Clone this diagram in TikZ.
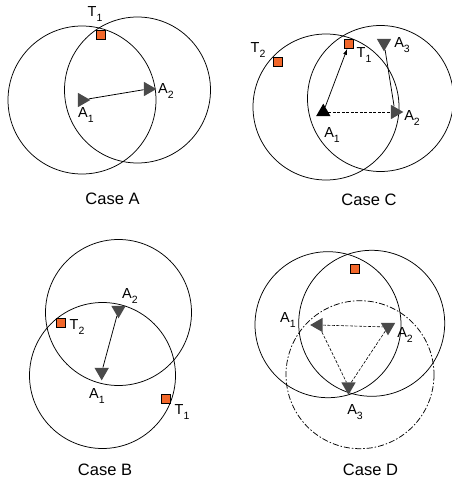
\documentclass[tikz,border=0pt]{standalone}
\usepackage{fontspec}
\setmainfont{Liberation Sans}
\usepackage{tikz}
\usetikzlibrary{arrows.meta,shapes.geometric}
\definecolor{tgtorange}{HTML}{F2672A}
\definecolor{agentgray}{HTML}{4A4A4A}
\newcommand{\ix}[1]{\raisebox{-0.55ex}{\fontsize{10.5}{12}\selectfont #1}}

\begin{document}
\begin{tikzpicture}[x=1pt, y=-1pt,
    rangecirc/.style={draw, line width=0.75pt},
    outercirc/.style={draw, line width=0.75pt, dash pattern=on 6pt off 2pt on 1.5pt off 2pt},
    tgt/.style={draw, fill=tgtorange, minimum size=9pt, inner sep=0pt, line width=0.6pt},
    agent/.style={isosceles triangle, isosceles triangle apex angle=60, fill=agentgray, inner sep=0pt, minimum height=12.5pt, minimum width=12.5pt},
    lab/.style={font=\fontsize{14.5}{16}\selectfont, inner sep=0pt},
    caption/.style={font=\fontsize{16.5}{18}\selectfont, inner sep=0pt},
    move/.style={line width=0.75pt},
    moveto/.style={line width=0.75pt, -{Latex[length=6pt, width=4pt]}},
    probe/.style={line width=0.6pt, dash pattern=on 3pt off 1.5pt}
  ]
    \useasboundingbox (0,0) rectangle (451,481);

    % case A
    \draw[rangecirc] (82,100) circle[radius=74];
    \draw[rangecirc] (137.5,90) circle[radius=73];
    \node[tgt] (tA1) at (100.5,34.5) {};
    \node[lab] at (95,14) {T\ix{1}};
    \node[agent, shape border rotate=0] (aA1) at (82,100) {};
    \node[agent, shape border rotate=8] (aA2) at (148,89) {};
    \node[lab] at (86,115) {A\ix{1}};
    \node[lab] at (166,91) {A\ix{2}};
    \draw[move] (aA1) -- (aA2);
    \node[caption] at (112.5,199) {Case A};

    % case C
    \draw[rangecirc] (326,107) circle[radius=73];
    \draw[rangecirc] (380.5,98.5) circle[radius=73];
    \node[tgt] (tC2) at (277.3,61.7) {};
    \node[lab] at (258,50) {T\ix{2}};
    \node[tgt] (tC1) at (349,44) {};
    \node[lab] at (364,55) {T\ix{1}};
    \node[agent, fill=black, shape border rotate=90] (aC1) at (323.3,112) {};
    \node[agent, shape border rotate=0] (aC2) at (395,112) {};
    \node[agent, shape border rotate=-95] (aC3) at (384,43) {};
    \node[lab] at (332,135) {A\ix{1}};
    \node[lab] at (412,118) {A\ix{2}};
    \node[lab] at (402,45) {A\ix{3}};
    \draw[moveto] (aC1) -- (tC1);
    \draw[probe] (aC1) -- (aC2);
    \draw[move] (aC2) -- (aC3);
    \node[caption] at (369,200) {Case C};

    % case B
    \draw[rangecirc] (118.5,312.5) circle[radius=73];
    \draw[rangecirc] (102.5,375.5) circle[radius=73];
    \node[tgt] (tB2) at (61,323) {};
    \node[lab] at (77,327) {T\ix{2}};
    \node[tgt] (tB1) at (165.7,398.3) {};
    \node[lab] at (182,412) {T\ix{1}};
    \node[agent, shape border rotate=-110] (aB2) at (118.5,310) {};
    \node[agent, shape border rotate=-95] (aB1) at (101.7,372) {};
    \node[lab] at (130,296) {A\ix{2}};
    \node[lab] at (97,396) {A\ix{1}};
    \draw[move] (aB1) -- (aB2);
    \node[caption] at (105,470) {Case B};

    % case D
    \draw[rangecirc] (328,324.7) circle[radius=73];
    \draw[rangecirc] (371.7,323.3) circle[radius=73];
    \draw[outercirc] (360,374.7) circle[radius=74];
    \node[tgt] (tD) at (355,269) {};
    \node[agent, shape border rotate=150] (aD1) at (318.5,325) {};
    \node[agent, shape border rotate=-90] (aD2) at (388,327) {};
    \node[agent, shape border rotate=-80] (aD3) at (348.5,386.5) {};
    \node[lab] at (288,320) {A\ix{1}};
    \node[lab] at (405,335) {A\ix{2}};
    \node[lab] at (355,412) {A\ix{3}};
    \draw[probe] (aD1) -- (aD2);
    \draw[probe] (aD1) -- (aD3);
    \draw[probe] (aD2) -- (aD3);
    \node[caption] at (370.5,470) {Case D};
  \end{tikzpicture}
\end{document}
